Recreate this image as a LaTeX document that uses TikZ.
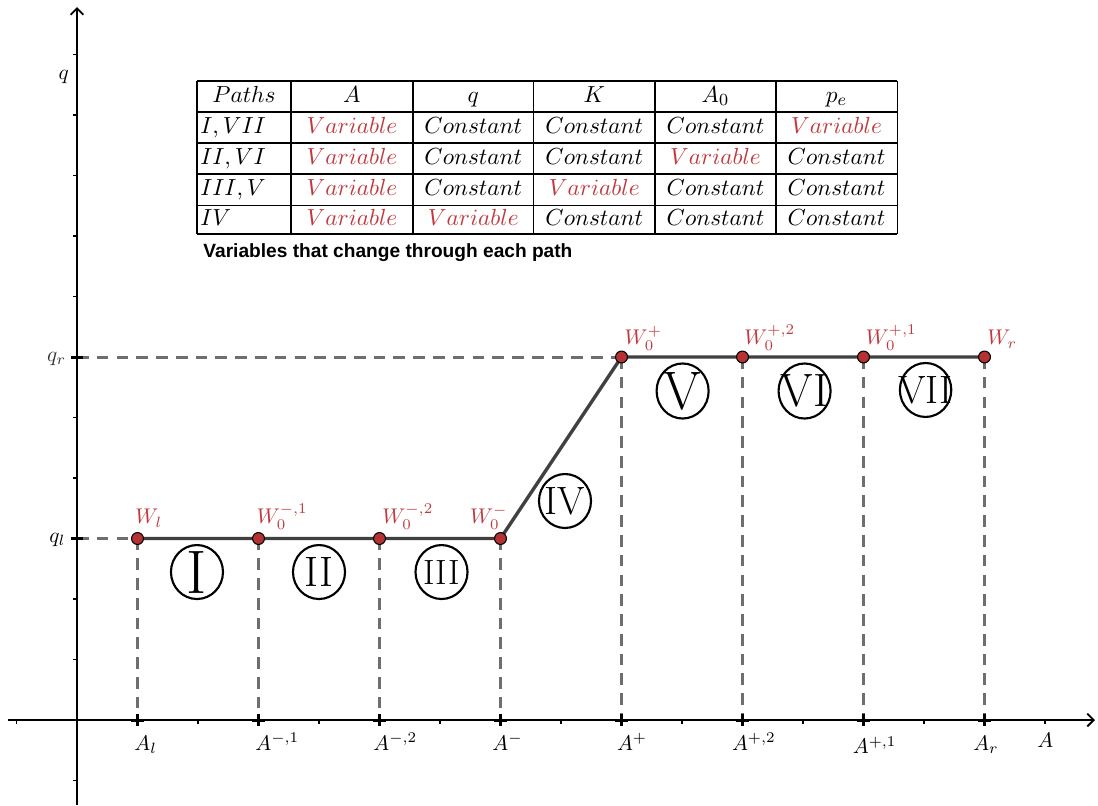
\documentclass[tikz,border=0pt]{standalone}
\usepackage{fontspec}
\newfontfamily\capfont{Liberation Sans}
\usetikzlibrary{arrows.meta}
\definecolor{labred}{RGB}{192,57,62}
\definecolor{ptred}{RGB}{180,50,52}
\definecolor{dashgray}{RGB}{110,110,110}
\definecolor{linegray}{RGB}{64,64,64}
\begin{document}
\begin{tikzpicture}[x=1cm,y=1cm,
  axis/.style={line width=0.9pt, -{Straight Barb[length=3pt,width=6pt]}},
  guide/.style={dashgray, line width=1.4pt, dash pattern=on 5.5pt off 3.8pt},
  curve/.style={linegray, line width=1.6pt},
  pt/.style={circle, fill=ptred, draw=black, line width=0.5pt, minimum size=5.6pt, inner sep=0},
  ptlab/.style={labred, anchor=base west, inner sep=0, font=\fontsize{10}{12}\selectfont},
  axlab/.style={anchor=base west, inner sep=0, font=\fontsize{10}{12}\selectfont},
  cell/.style={anchor=base, inner sep=0, font=\fontsize{11}{13}\selectfont},
  var/.style={cell, text=labred},
  rowlab/.style={anchor=base west, inner sep=0, font=\fontsize{11}{13}\selectfont},
  ring/.style={draw=black, line width=1pt},
  numeral/.style={inner sep=0},
  crossmark/.style={line width=1.4pt},
  tickmark/.style={line width=0.5pt},
  grid line/.style={line width=0.5pt}
]
\useasboundingbox (-1.2727,-1.405) rectangle (16.876,11.901);

% axes
\coordinate (xl) at (-1.142,0);
\coordinate (xr) at (16.826,0);
\coordinate (yb) at (0,-1.405);
\coordinate (yt) at (0,11.785);
\draw[axis] (xl) -- (xr);
\draw[axis] (yb) -- (yt);
\foreach \x in {-1,2,4,6,8,10,12,14,16} \draw[tickmark] (\x,0) -- (\x,-0.07);
\foreach \y in {-1,1,2,4,5,7,8,9,10,11} \draw[tickmark] (0,\y) -- (-0.07,\y);

% axis foot points
\coordinate (Al) at (1,0);
\coordinate (Am1) at (3,0);
\coordinate (Am2) at (5,0);
\coordinate (Am) at (7,0);
\coordinate (Ap) at (9,0);
\coordinate (Ap2) at (11,0);
\coordinate (Ap1) at (13,0);
\coordinate (Ar) at (15,0);
\coordinate (ql) at (0,3);
\coordinate (qr) at (0,6);

% graph points
\coordinate (Wl) at (1,3);
\coordinate (Wm1) at (3,3);
\coordinate (Wm2) at (5,3);
\coordinate (Wm) at (7,3);
\coordinate (Wp) at (9,6);
\coordinate (Wp2) at (11,6);
\coordinate (Wp1) at (13,6);
\coordinate (Wr) at (15,6);

% guides
\draw[guide] (ql) -- (Wl);
\draw[guide] (qr) -- (Wp);
\foreach \a/\b in {Wl/Al,Wm1/Am1,Wm2/Am2,Wm/Am,Wp/Ap,Wp2/Ap2,Wp1/Ap1,Wr/Ar}
  \draw[guide] (\a) -- (\b);

% crosses
\foreach \x in {1,3,...,15} \draw[crossmark] (\x-0.1,0) -- (\x+0.1,0) (\x,-0.1) -- (\x,0.1);
\foreach \y in {3,6} \draw[crossmark] (-0.1,\y) -- (0.1,\y) (0,\y-0.1) -- (0,\y+0.1);

% curve
\draw[curve, line join=round] (Wl) -- (Wm1) -- (Wm2) -- (Wm) -- (Wp) -- (Wp2) -- (Wp1) -- (Wr);
\foreach \p in {Wl,Wm1,Wm2,Wm,Wp,Wp2,Wp1,Wr} \node[pt] (n\p) at (\p) {};

% point labels
\node[ptlab] (lWl) at (0.959,3.24) {$W_l$};
\node[ptlab] (lWm1) at (2.965,3.24) {$W_0^{-,1}$};
\node[ptlab] (lWm2) at (5.041,3.24) {$W_0^{-,2}$};
\node[ptlab] (lWm) at (6.489,3.24) {$W_0^{-}$};
\node[ptlab] (lWp) at (9.046,6.2) {$W_0^{+}$};
\node[ptlab] (lWp2) at (11.025,6.2) {$W_0^{+,2}$};
\node[ptlab] (lWp1) at (13.033,6.2) {$W_0^{+,1}$};
\node[ptlab] (lWr) at (15.041,6.2) {$W_r$};

% axis labels
\node[axlab] (tAl) at (0.942,-0.5) {$A_l$};
\node[axlab] (tAm1) at (2.942,-0.5) {$A^{-,1}$};
\node[axlab] (tAm2) at (4.893,-0.5) {$A^{-,2}$};
\node[axlab] (tAm) at (6.86,-0.5) {$A^{-}$};
\node[axlab] (tAp) at (8.919,-0.5) {$A^{+}$};
\node[axlab] (tAp2) at (10.82,-0.5) {$A^{+,2}$};
\node[axlab] (tAp1) at (12.816,-0.56) {$A^{+,1}$};
\node[axlab] (tAr) at (14.807,-0.5) {$A_r$};
\node[axlab] (tA) at (15.868,-0.46) {$A$};
\node[axlab] (tq) at (-0.309,10.58) {$q$};
\node[axlab, black!80] (tqr) at (-0.501,5.93) {$q_r$};
\node[axlab] (tql) at (-0.463,2.93) {$q_l$};

% circled numerals
\draw[ring] (1.983,2.446) ellipse [x radius=0.43, y radius=0.446];
\node[numeral] (cI) at (1.983,2.446) {\fontsize{28.9}{30}\selectfont I};
\draw[ring] (4.0,2.446) ellipse [x radius=0.43, y radius=0.446];
\node[numeral] (cII) at (4.0,2.446) {\fontsize{20}{22}\selectfont II};
\draw[ring] (6.025,2.446) ellipse [x radius=0.43, y radius=0.446];
\node[numeral] (cIII) at (6.025,2.446) {\fontsize{16.5}{18}\selectfont III};
\draw[ring] (8.066,3.62) ellipse [x radius=0.43, y radius=0.446];
\node[numeral] (cIV) at (8.066,3.62) {\fontsize{18.6}{20}\selectfont IV};
\draw[ring] (10.01,5.438) ellipse [x radius=0.43, y radius=0.455];
\node[numeral] (cV) at (10.01,5.438) {\fontsize{25.5}{27}\selectfont V};
\draw[ring] (12.026,5.438) ellipse [x radius=0.43, y radius=0.455];
\node[numeral] (cVI) at (12.026,5.438) {\fontsize{22}{24}\selectfont VI};
\draw[ring] (14.026,5.455) ellipse [x radius=0.425, y radius=0.446];
\node[numeral] (cVII) at (14.026,5.455) {\fontsize{18.6}{20}\selectfont VII};

% table grid
\foreach \y in {10.562,10.05,9.537,9.025,8.512,8.033} \draw[grid line] (1.983,\y) -- (13.554,\y);
\foreach \x in {1.983,3.537,5.554,7.545,9.554,11.554,13.554} \draw[grid line] (\x,8.033) -- (\x,10.562);

% header
\node[cell] (hP) at (2.76,10.21) {$Paths$};
\node[cell] (hA) at (4.545,10.21) {$A$};
\node[cell] (hq) at (6.55,10.21) {$q$};
\node[cell] (hK) at (8.55,10.21) {$K$};
\node[cell] (hA0) at (10.554,10.21) {$A_0$};
\node[cell] (hpe) at (12.554,10.21) {$p_e$};

% row labels
\node[rowlab] (r1) at (2.033,9.697) {$I,VII$};
\node[rowlab] (r2) at (2.033,9.185) {$II,VI$};
\node[rowlab] (r3) at (2.033,8.672) {$III,V$};
\node[rowlab] (r4) at (2.033,8.18) {$IV$};

% row 1
\node[var]  (c1a) at (4.545,9.697) {$Variable$};
\node[cell] (c1b) at (6.55,9.697) {$Constant$};
\node[cell] (c1c) at (8.55,9.697) {$Constant$};
\node[cell] (c1d) at (10.554,9.697) {$Constant$};
\node[var]  (c1e) at (12.554,9.697) {$Variable$};
% row 2
\node[var]  (c2a) at (4.545,9.185) {$Variable$};
\node[cell] (c2b) at (6.55,9.185) {$Constant$};
\node[cell] (c2c) at (8.55,9.185) {$Constant$};
\node[var]  (c2d) at (10.554,9.185) {$Variable$};
\node[cell] (c2e) at (12.554,9.185) {$Constant$};
% row 3
\node[var]  (c3a) at (4.545,8.672) {$Variable$};
\node[cell] (c3b) at (6.55,8.672) {$Constant$};
\node[var]  (c3c) at (8.55,8.672) {$Variable$};
\node[cell] (c3d) at (10.554,8.672) {$Constant$};
\node[cell] (c3e) at (12.554,8.672) {$Constant$};
% row 4
\node[var]  (c4a) at (4.545,8.18) {$Variable$};
\node[var]  (c4b) at (6.55,8.18) {$Variable$};
\node[cell] (c4c) at (8.55,8.18) {$Constant$};
\node[cell] (c4d) at (10.554,8.18) {$Constant$};
\node[cell] (c4e) at (12.554,8.18) {$Constant$};

% caption
\node[anchor=base west, inner sep=0, font=\capfont\bfseries\fontsize{9}{11}\selectfont] (cap) at (2.083,7.653) {Variables that change through each path};
\end{tikzpicture}
\end{document}
